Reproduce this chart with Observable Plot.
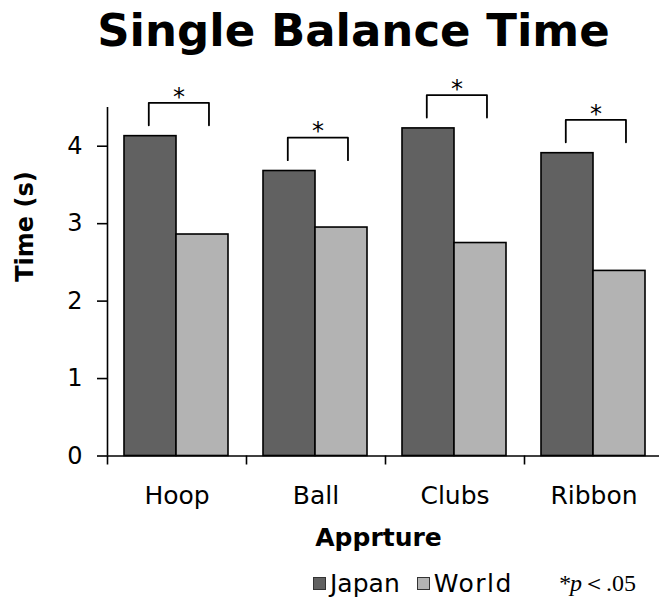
<!DOCTYPE html>
<html><head><meta charset="utf-8">
<script src="https://cdn.jsdelivr.net/npm/d3@7"></script>
<script src="https://cdn.jsdelivr.net/npm/@observablehq/plot@0.6"></script>
<style>
body{margin:0;background:#fff;}
#wrap{position:relative;width:659px;height:597px;overflow:hidden;font-family:"DejaVu Sans",Verdana,sans-serif;color:#000;}
#chart{position:absolute;left:0;top:0;}
#title{position:absolute;left:24px;top:8px;width:659px;text-align:center;font-size:45px;line-height:45px;font-weight:bold;white-space:nowrap;}
#legend{position:absolute;left:313px;top:568px;height:30px;display:flex;align-items:center;font-size:25px;white-space:nowrap;}
#legend .sw{display:inline-block;width:11px;height:11px;border:1.5px solid #333;margin-right:4px;}
#legend .item{display:flex;align-items:center;margin-right:17px;}
#legend .item + .item{letter-spacing:1.5px;}
#legend .p{font-family:"Liberation Serif","DejaVu Serif",serif;font-size:24px;margin-left:28px;}
</style></head><body>
<div id="wrap">
<div id="chart"></div>
<div id="title">Single Balance Time</div>
<div id="legend"></div>
</div>
<script>
const categories = ["Hoop", "Ball", "Clubs", "Ribbon"];
const japan = [4.13, 3.68, 4.23, 3.91];
const world = [2.86, 2.95, 2.75, 2.39];
const marks = ["*", "*", "*", "*"];
const seriesNames = ["Japan", "World"];
const seriesColors = ["#616161", "#b3b3b3"];
const yTicks = [0, 1, 2, 3, 4];
const xTitle = "Apprture";
const yTitle = "Time (s)";
const noteText = "*p";
const noteRest = "＜.05";

const bars = [];
categories.forEach((c, i) => {
  bars.push({cat: c, i, series: "Japan", value: japan[i]});
  bars.push({cat: c, i, series: "World", value: world[i]});
});
const barL = 17 / 139, barW = 52 / 139;
const brL = 0.297, brR = 0.73, legOff = 0.14, topOff = 0.43;
const brackets = [];
categories.forEach((c, i) => {
  const t = japan[i] + topOff, b = japan[i] + legOff;
  brackets.push({cat: c, x: i + brL, y: b});
  brackets.push({cat: c, x: i + brL, y: t});
  brackets.push({cat: c, x: i + brR, y: t});
  brackets.push({cat: c, x: i + brR, y: b});
});
const stars = categories.map((c, i) => ({x: i + (brL + brR) / 2, y: japan[i] + topOff, t: marks[i]}));

const chart = Plot.plot({
  width: 659, height: 597,
  marginLeft: 107, marginRight: 0, marginTop: 107, marginBottom: 141.5,
  x: {domain: [0, categories.length], range: [107, 663]},
  y: {domain: [0, 4.5]},
  color: {domain: seriesNames, range: seriesColors},
  style: {fontFamily: "DejaVu Sans, Verdana, sans-serif", color: "#000", background: "transparent", overflow: "visible"},
  marks: [
    Plot.rectY(bars, {
      x1: d => d.i + barL + (d.series === "World" ? barW : 0),
      x2: d => d.i + barL + barW + (d.series === "World" ? barW : 0),
      y1: 0, y2: "value", fill: "series", stroke: "#000", strokeWidth: 1.6
    }),
    Plot.ruleX([0], {stroke: "#000", strokeWidth: 1.6}),
    Plot.ruleY([0], {stroke: "#000", strokeWidth: 1.6}),
    Plot.axisY({ticks: yTicks, tickSize: 10, tickPadding: 15, fontSize: 24, label: null, tickFormat: d => String(d), strokeWidth: 1.6}),
    Plot.axisX({ticks: categories.map((c, i) => i + 0.5), tickFormat: d => categories[Math.floor(d)], tickSize: 0, tickPadding: 30, fontSize: 25, label: null}),
    Plot.axisX({ticks: d3.range(categories.length + 1), tickFormat: () => "", tickSize: 9, tickPadding: 0, label: null, strokeWidth: 1.6}),
    Plot.line(brackets, {x: "x", y: "y", z: "cat", stroke: "#000", strokeWidth: 1.8, curve: "linear"}),
    Plot.text(stars, {x: "x", y: "y", text: "t", fontSize: 24, dy: -6}),
    Plot.text([xTitle], {frameAnchor: "bottom", text: d => d, dx: -5, dy: 90, fontSize: 25, fontWeight: "bold"}),
    Plot.text([yTitle], {frameAnchor: "left", text: d => d, rotate: -90, dx: -82, dy: 0, fontSize: 24, fontWeight: "bold"})
  ]
});
document.getElementById("chart").appendChild(chart);

const legend = document.getElementById("legend");
seriesNames.forEach((s, k) => {
  const it = document.createElement("span");
  it.className = "item";
  const sw = document.createElement("span");
  sw.className = "sw";
  sw.style.background = seriesColors[k];
  it.appendChild(sw);
  it.appendChild(document.createTextNode(s));
  legend.appendChild(it);
});
const p = document.createElement("span");
p.className = "p";
const pi = document.createElement("i");
pi.textContent = noteText;
p.appendChild(pi);
p.appendChild(document.createTextNode(noteRest));
legend.appendChild(p);
</script>
</body></html>
